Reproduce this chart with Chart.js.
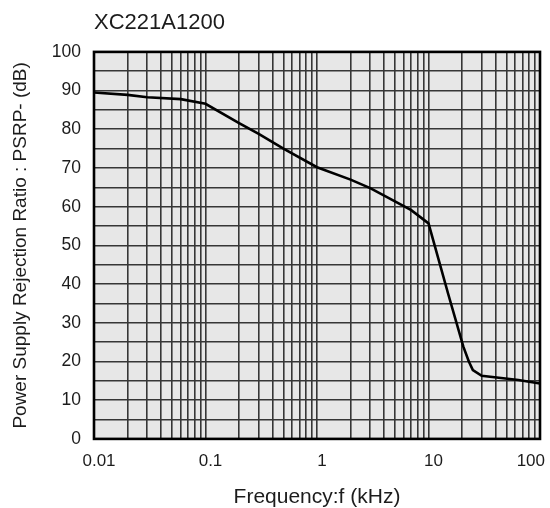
<!DOCTYPE html>
<html>
<head>
<meta charset="utf-8">
<script src="https://cdn.jsdelivr.net/npm/chart.js@4/dist/chart.umd.min.js"></script>
<style>
  html, body { margin: 0; padding: 0; background: #ffffff; }
  #wrap { width: 550px; height: 508px; }
</style>
</head>
<body>
<div id="wrap"><canvas id="c" width="550" height="508"></canvas></div>
<script>
// ---- data ----
const frequencyKHz = [0.01, 0.02, 0.03, 0.06, 0.1, 0.2, 0.3, 0.5, 1, 2, 3, 5, 7, 10, 15, 20.5, 23, 25, 30, 64, 100];
const psrrDB       = [89.5, 88.9, 88.3, 87.8, 86.6, 81.6, 78.8, 75.0, 70.2, 67.0, 64.8, 61.4, 59.1, 55.7, 37.5, 23.9, 20.0, 17.8, 16.3, 15.2, 14.3];
const xDecades     = [0.01, 0.1, 1, 10, 100];
const xMinorSteps  = [1, 2, 3, 4, 5, 6, 7, 8, 9];
const yLabelValues = [0, 10, 20, 30, 40, 50, 60, 70, 80, 90, 100];
const chartTitle   = 'XC221A1200';
const xTitle       = 'Frequency:f (kHz)';
const yTitle       = 'Power Supply Rejection Ratio : PSRP- (dB)';

const FONT = "'Liberation Sans', Arial, Helvetica, sans-serif";
const TEXT = '#1c1c1c';
const GRID = '#363636';

const plotFrame = {
  id: 'plotFrame',
  beforeDraw(chart) {
    const {ctx, chartArea: a} = chart;
    ctx.save();
    ctx.fillStyle = '#e7e7e7';
    ctx.fillRect(a.left, a.top, a.right - a.left, a.bottom - a.top);
    ctx.restore();
  },
  afterDraw(chart) {
    const {ctx, chartArea: a} = chart;
    ctx.save();
    ctx.strokeStyle = '#000000';
    ctx.lineWidth = 2.6;
    ctx.strokeRect(a.left, a.top, a.right - a.left, a.bottom - a.top);
    ctx.restore();
  }
};

new Chart(document.getElementById('c'), {
  type: 'line',
  data: {
    datasets: [{
      data: frequencyKHz.map((f, i) => ({x: f, y: psrrDB[i]})),
      borderColor: '#000000',
      borderWidth: 2.6,
      pointRadius: 0,
      tension: 0,
      fill: false
    }]
  },
  options: {
    responsive: false,
    animation: false,
    devicePixelRatio: 1,
    layout: { padding: { left: 9, right: 10, top: 0, bottom: 0 } },
    plugins: {
      legend: { display: false },
      tooltip: { enabled: false },
      title: {
        display: true,
        text: chartTitle,
        align: 'start',
        fullSize: false,
        color: TEXT,
        font: { family: FONT, size: 22, weight: 'normal' },
        padding: { top: 9.5, bottom: 16 }
      }
    },
    scales: {
      x: {
        type: 'logarithmic',
        min: xDecades[0],
        max: xDecades[xDecades.length - 1],
        afterBuildTicks(scale) {
          const ticks = [];
          xDecades.forEach((d, di) => {
            xMinorSteps.forEach(m => {
              if (di === xDecades.length - 1 && m > 1) return;
              const v = +(d * m).toPrecision(6);
              ticks.push({ value: v, major: m === 1 });
            });
          });
          scale.ticks = ticks;
        },
        afterFit(scale) {
          scale.paddingLeft = 0;
          scale.paddingRight = 0;
        },
        grid: { color: GRID, lineWidth: 1.6, drawTicks: false },
        border: { display: false },
        ticks: {
          autoSkip: false,
          maxRotation: 0,
          labelOffset: 5,
          padding: 12.5,
          color: TEXT,
          font: { family: FONT, size: 17 },
          callback(value) {
            if (!xDecades.includes(value)) return '';
            // last label is kept inside the canvas, as in the reference
            return value === xDecades[xDecades.length - 1] ? String(value) + '      ' : String(value);
          }
        },
        title: {
          display: true,
          text: xTitle,
          color: TEXT,
          font: { family: FONT, size: 21 },
          padding: { top: 0, bottom: -1.5 }
        }
      },
      y: {
        type: 'linear',
        min: yLabelValues[0],
        max: yLabelValues[yLabelValues.length - 1],
        grid: { color: GRID, lineWidth: 1.6, drawTicks: false },
        border: { display: false },
        ticks: {
          stepSize: 5,
          autoSkip: false,
          padding: 13,
          color: TEXT,
          font: { family: FONT, size: 17.5 },
          callback(value) {
            return yLabelValues.includes(value) ? String(value) : '';
          }
        },
        title: {
          display: true,
          text: yTitle,
          color: TEXT,
          font: { family: FONT, size: 19 },
          padding: { top: 0, bottom: 7 }
        }
      }
    }
  },
  plugins: [plotFrame]
});
</script>
</body>
</html>
